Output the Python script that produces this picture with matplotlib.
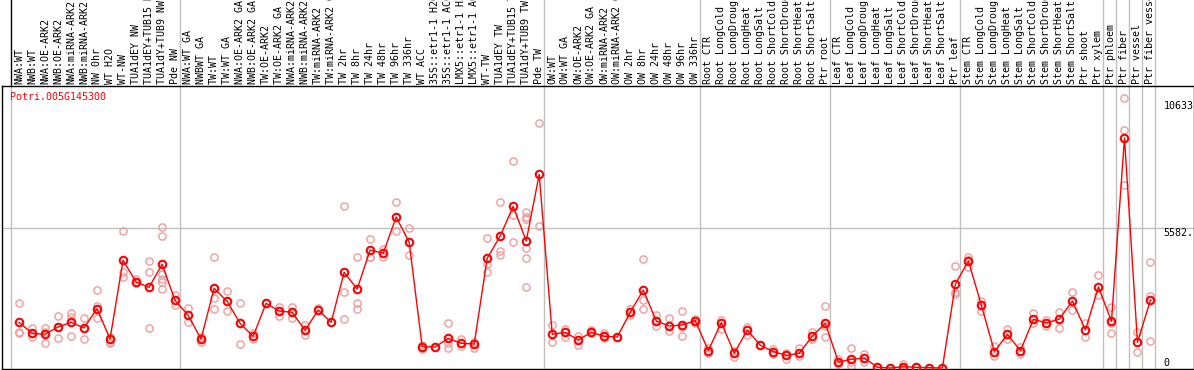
import matplotlib
matplotlib.use('Agg')
import matplotlib.pyplot as plt
import matplotlib.transforms as mtransforms

# sample names, in plot order
labels = [
    'NWA:WT', 'NWB:WT', 'NWA:OE-ARK2', 'NWB:OE-ARK2', 'NWA:miRNA-ARK2', 'NWB:miRNA-ARK2',
    'NW 0hr', 'WT H2O', 'WT-NW', 'TUA1dEY NW', 'TUA1dEY+TUB15 NW', 'TUA1dY+TUB9 NW', 'Pde NW',
    'NWA:WT GA', 'NWBWT GA', 'TW:WT', 'TW:WT GA', 'NWA:OE-ARK2 GA', 'NWB:OE-ARK2 GA',
    'TW:OE-ARK2', 'TW:OE-ARK2 GA', 'NWA:miRNA-ARK2 GA', 'NWB:miRNA-ARK2 GA', 'TW:miRNA-ARK2',
    'TW:miRNA-ARK2 GA', 'TW 2hr', 'TW 8hr', 'TW 24hr', 'TW 48hr', 'TW 96hr', 'TW 336hr',
    'WT ACC', '35S::etr1-1 H2O', '35S::etr1-1 ACC', 'LMX5::etr1-1 H2O', 'LMX5::etr1-1 ACC',
    'WT-TW', 'TUA1dEY TW', 'TUA1dEY+TUB15 TW', 'TUA1dY+TUB9 TW', 'Pde TW',
    'OW:WT', 'OW:WT GA', 'OW:OE-ARK2', 'OW:OE-ARK2 GA', 'OW:miRNA-ARK2', 'OW:miRNA-ARK2 GA',
    'OW 2hr', 'OW 8hr', 'OW 24hr', 'OW 48hr', 'OW 96hr', 'OW 336hr',
    'Root CTR', 'Root LongCold', 'Root LongDrought', 'Root LongHeat', 'Root LongSalt',
    'Root ShortCold', 'Root ShortDrought', 'Root ShortHeat', 'Root ShortSalt', 'Ptr root',
    'Leaf CTR', 'Leaf LongCold', 'Leaf LongDrought', 'Leaf LongHeat', 'Leaf LongSalt',
    'Leaf ShortCold', 'Leaf ShortDrought', 'Leaf ShortHeat', 'Leaf ShortSalt', 'Ptr leaf',
    'Stem CTR', 'Stem LongCold', 'Stem LongDrought', 'Stem LongHeat', 'Stem LongSalt',
    'Stem ShortCold', 'Stem ShortDrought', 'Stem ShortHeat', 'Stem ShortSalt', 'Ptr shoot',
    'Ptr xylem', 'Ptr phloem', 'Ptr fiber', 'Ptr vessel', 'Ptr fiber vessel',
]

# number of samples in each block between the vertical separators
group_sizes = [13, 28, 12, 10, 10, 11, 1, 1, 1, 1]

# mean expression for each sample
means = [
    1821, 1383, 1343, 1635, 1821, 1595, 2366, 1157, 4293, 3429, 3217, 4134, 2698,
    2100, 1157, 3177, 2658, 1781, 1263, 2579, 2273, 2220, 1502, 2313, 1821, 3815, 3150,
    4705, 4572, 6021, 5011, 851, 838, 1183, 984, 957, 4373, 5263, 6446, 5064, 7722,
    1343, 1423, 1117, 1423, 1263, 1236, 2220, 3110, 1874, 1675, 1715, 1888,
    692, 1808, 585, 1516, 904, 652, 505, 585, 1276, 1781,
    240, 346, 399, 30, 0, 53, 27, 13, 0, 3349,
    4266, 2499, 652, 1343, 692, 1941, 1795, 1954, 2672, 1516, 3230,
    1861, 9170, 1024, 2711,
]

# individual replicates for each sample
replicates = [
    [2579, 1449, 1409], [1582, 1383, 1250], [1582, 1449, 984], [2061, 1650, 1183],
    [2194, 2021, 1290], [1994, 1595, 1157], [3110, 2472, 2366, 1994], [1250, 1050, 984],
    [5449, 3828, 3615], [3536, 3376], [4253, 3815, 1582],
    [5622, 5250, 3735, 3536, 3443, 3137], [2911, 2499],
    [2406, 1821], [1250, 1050], [4413, 2778, 2353], [3070, 2273], [2579, 944],
    [1383, 1144], [2579], [2432, 2087], [2432, 1981], [1715, 1330], [2380], [1821],
    [6446, 3031, 1954], [4413, 2592, 2353], [5144, 4439, 4413], [4745, 4413],
    [6619, 5463], [5582, 4493], [918, 745], [838], [1795, 984, 785], [1144, 878],
    [1050, 785], [5184, 4134, 3815], [6619, 4679, 4493], [8240, 6101, 5011],
    [6220, 6034, 5928, 4772, 4400, 3217], [9755, 5675],
    [1715, 1037], [1542, 1250], [1276, 918], [1516, 1383], [1383, 1183], [1236],
    [2340, 2100], [4333, 2711, 2353], [2100, 1688], [1994, 1476], [2286, 1648, 1276],
    [1968, 1808],
    [785, 600], [1914, 1542], [692, 452], [1648, 1316], [904], [745, 560], [612, 346],
    [785, 479], [1449, 1144], [2459, 1675, 1236],
    [346, 140], [798, 253, 93], [545, 253], [30], [0], [160, 0], [27], [13], [0],
    [4067, 3044, 2951],
    [4439, 4300, 4041], [2685, 2273], [878, 479], [1569, 1170], [851, 558],
    [2194, 1781], [1914, 1675], [2233, 1582], [3031, 2313], [1808, 1223], [3695, 2911],
    [2419, 1781, 1383], [10750, 9489, 7283], [1423, 625], [4227, 2858, 1064],
]

gene_name = 'Potri.005G145300'
ytick_values = [0, 5582, 10633]
ytick_labels = ['0', '5582.', '10633']

W, H = 1194, 370
plt.rcParams['font.family'] = ['DejaVu Sans Mono']
plt.rcParams['font.size'] = 7.2

fig = plt.figure(figsize=(W / 100, H / 100), dpi=100)
ax = fig.add_axes([2 / W, 1 / H, 1191.5 / W, 283 / H])
ax.set_xlim((2 - 19) / 13, (1193 - 19) / 13)
ax.set_ylim(-40, 11243)
ax.set_xticks([])
ax.set_yticks([])
for s in ax.spines.values():
    s.set_color('black')
    s.set_linewidth(1.0)

grey = '#c0c0c0'
ax.axhline(ytick_values[1], color=grey, lw=1.0, zorder=0)

# vertical separators, running up through the label band
top_ext = 369 / 283
bounds = [0]
for g in group_sizes:
    bounds.append(bounds[-1] + g)
for k in bounds:
    xk = k - 8 / 13
    if k == 0:
        ax.axvline(xk, ymin=0, ymax=1, color=grey, lw=1.0, zorder=0)
        ax.axvline(xk, ymin=1, ymax=top_ext, color='black', lw=1.0, clip_on=False)
    else:
        ax.axvline(xk, ymin=0, ymax=top_ext, color=grey, lw=1.0, zorder=0, clip_on=False)

# replicates
pink = '#f09c9c'
for i, reps in enumerate(replicates):
    ax.plot([i] * len(reps), reps, linestyle='none', marker='o', markersize=5.2,
            markerfacecolor='none', markeredgecolor=pink, markeredgewidth=1.0, zorder=2)

# mean line
x = list(range(len(means)))
ax.plot(x, means, color='red', lw=1.0, zorder=3)
ax.plot(x, means, linestyle='none', marker='o', markersize=5.4, markerfacecolor='none',
        markeredgecolor='red', markeredgewidth=1.5, zorder=4)

# sample labels
trans = mtransforms.blended_transform_factory(ax.transData, fig.transFigure)
for i, lab in enumerate(labels):
    ax.text(i, 1 - 84 / H, lab, transform=trans, rotation=90, rotation_mode='anchor',
            ha='left', va='center', color='black', clip_on=False)

fig.text(10 / W, 1 - 97 / H, gene_name, color='red', ha='left', va='center')

# value labels on the right
for v, lab in zip(ytick_values, ytick_labels):
    ax.text((1163 - 19) / 13, v, lab, ha='left', va='bottom' if v == 0 else 'top',
            color='black')

fig.savefig('out.png', dpi=100)
